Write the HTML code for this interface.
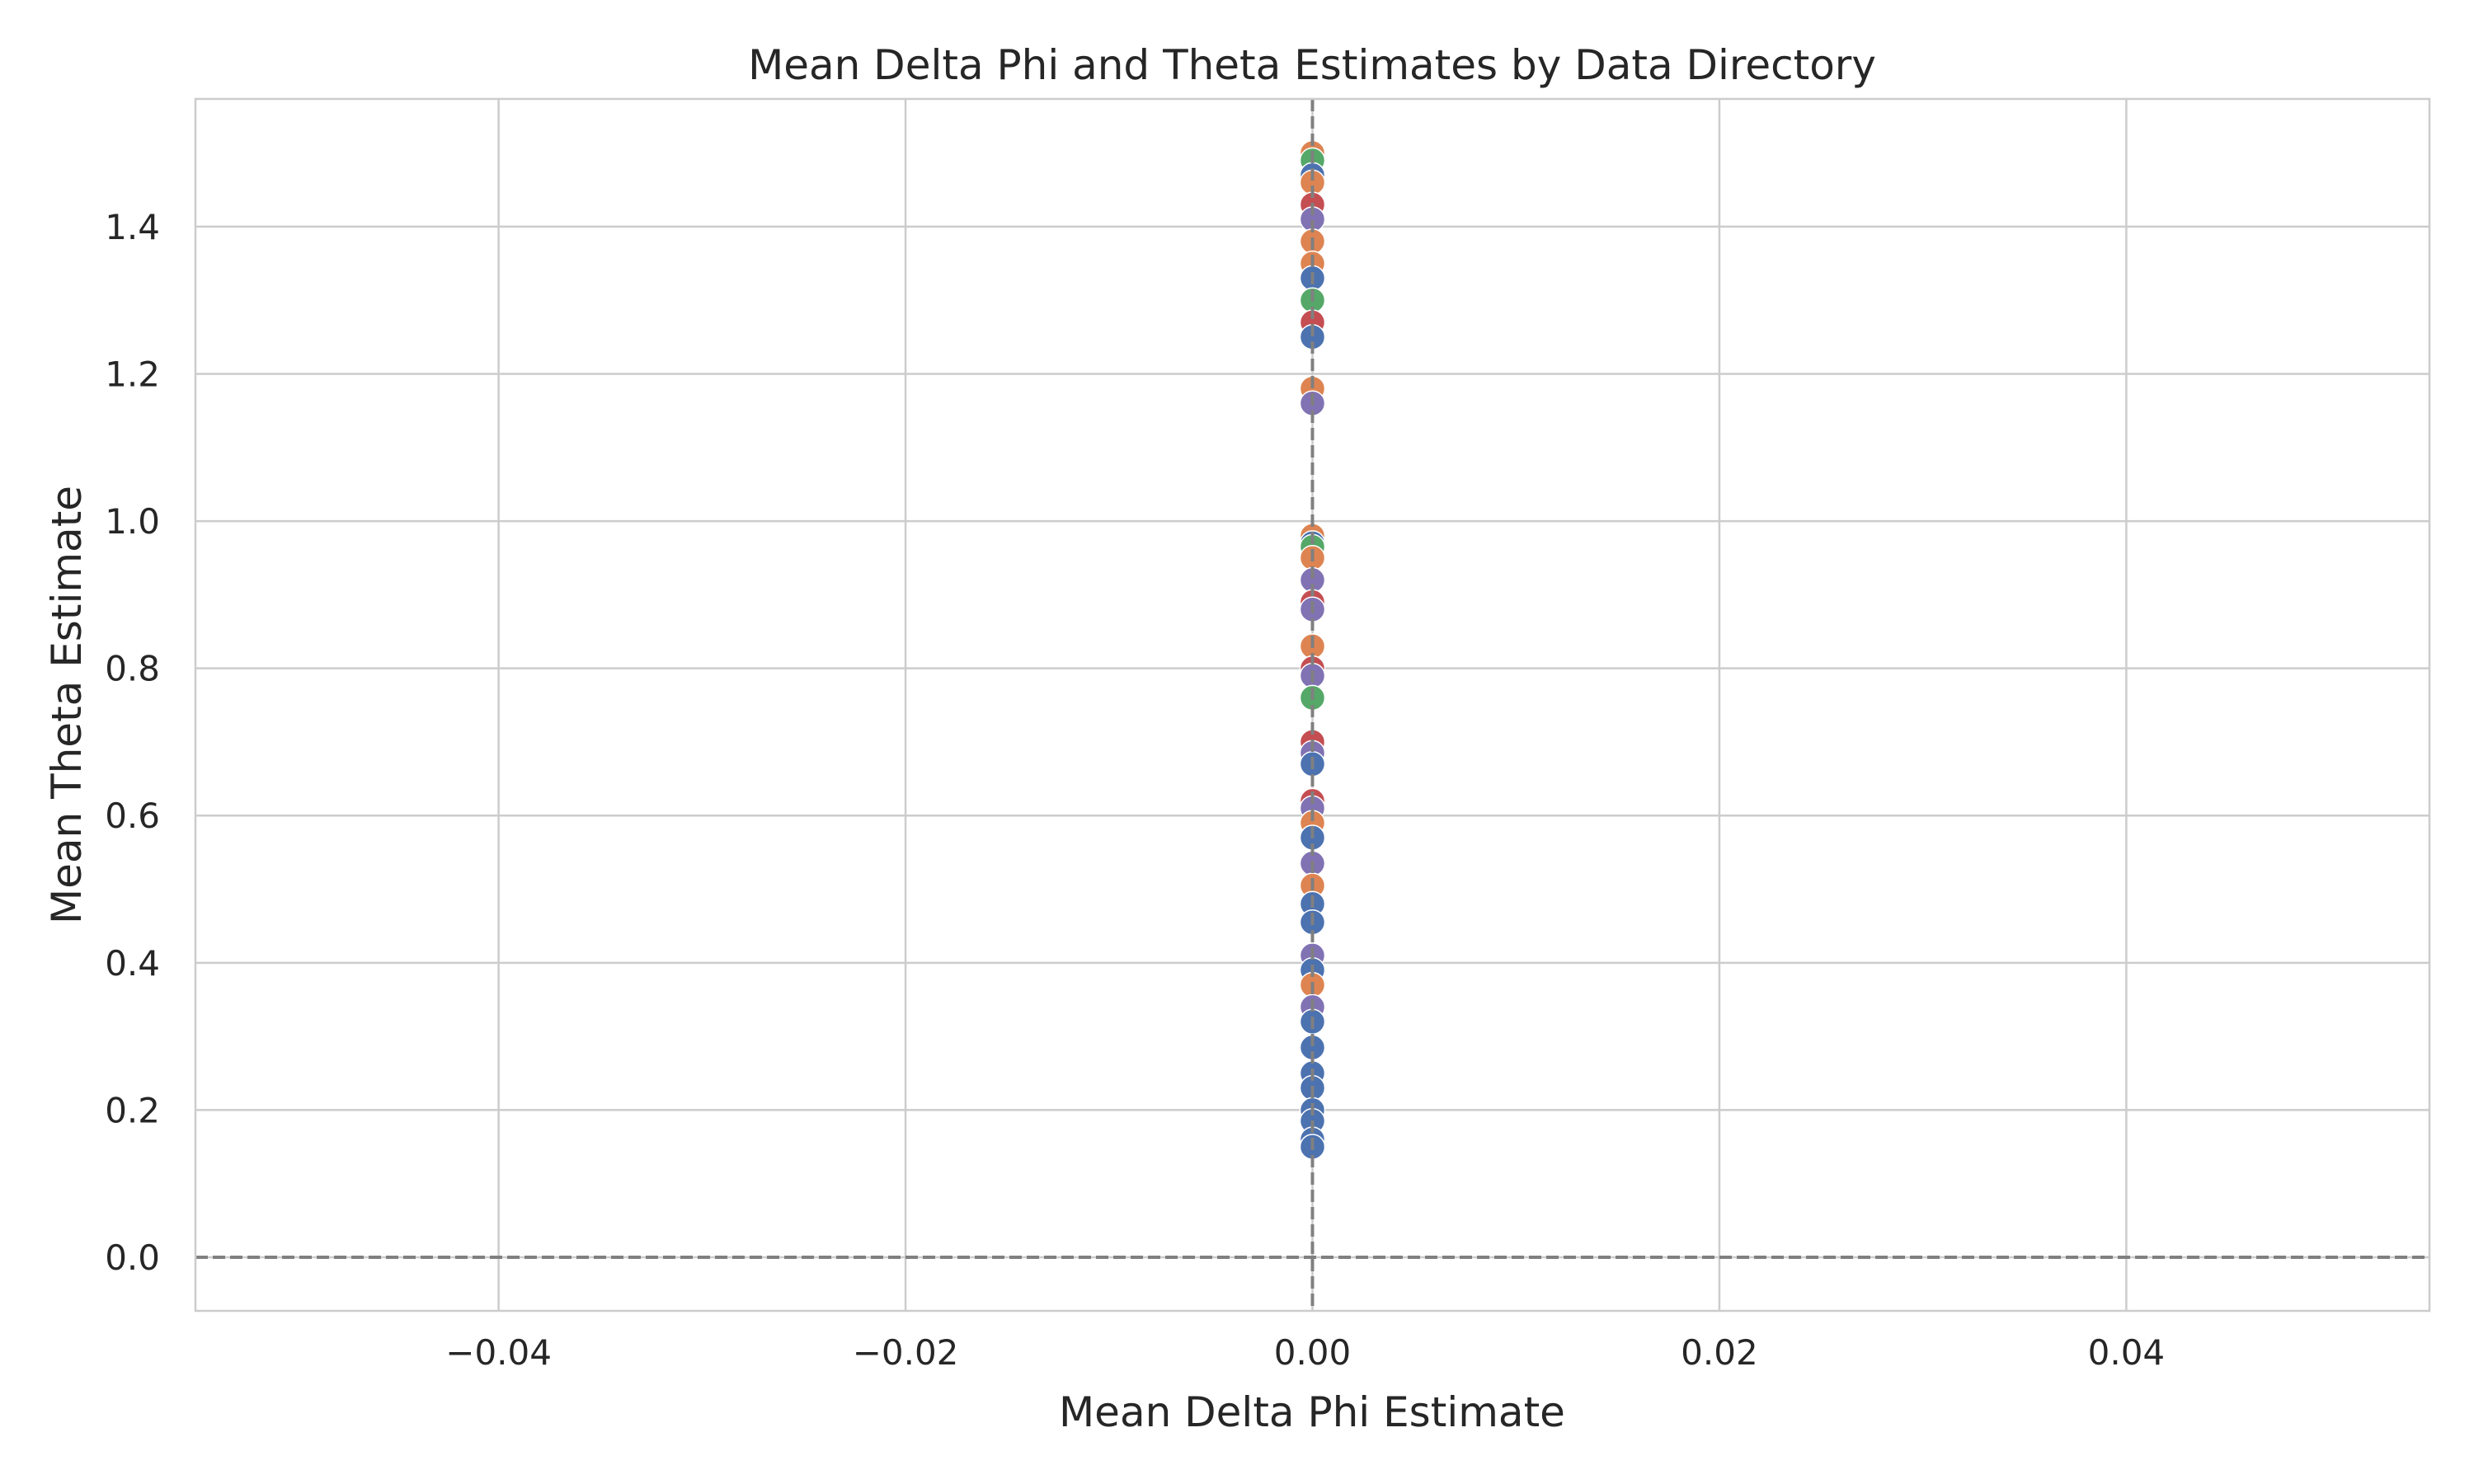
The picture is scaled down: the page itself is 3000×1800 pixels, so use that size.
<!DOCTYPE html>
<html><head><meta charset="utf-8"><style>
html,body{margin:0;padding:0;background:#fff;}
svg{display:block;font-family:"DejaVu Sans","Liberation Sans",sans-serif;}
</style></head><body>
<svg id="chart" width="3000" height="1800" viewBox="0 0 3000 1800" xmlns="http://www.w3.org/2000/svg">
<rect x="0" y="0" width="3000" height="1800" fill="#fff"/>
<g id="grid"></g>
<g id="refs"></g>
<g id="points"></g>
<rect x="237" y="120" width="2709" height="1470" fill="none" stroke="#cccccc" stroke-width="2.5"/>
<g id="ticks" font-size="42" fill="#262626"></g>
<text x="1591" y="96" font-size="50" text-anchor="middle" fill="#262626">Mean Delta Phi and Theta Estimates by Data Directory</text>
<text x="1591" y="1730" font-size="50" text-anchor="middle" fill="#262626">Mean Delta Phi Estimate</text>
<text transform="translate(98,855) rotate(-90)" font-size="50" text-anchor="middle" fill="#262626">Mean Theta Estimate</text>
</svg>
<script>
const xTicks = [-0.04, -0.02, 0.00, 0.02, 0.04];
const xTickLabels = ["\u22120.04", "\u22120.02", "0.00", "0.02", "0.04"];
const yTicks = [0.0, 0.2, 0.4, 0.6, 0.8, 1.0, 1.2, 1.4];
const yTickLabels = ["0.0", "0.2", "0.4", "0.6", "0.8", "1.0", "1.2", "1.4"];
const pointX = [0,0,0,0,0,0,0,0,0,0,0,0,0,0,0,0,0,0,0,0,0,0,0,0,0,0,0,0,0,0,0,0,0,0,0,0,0,0,0,0,0,0,0,0,0,0,0,0];
const pointY = [1.50,1.49,1.47,1.46,1.43,1.41,1.38,1.35,1.33,1.30,1.27,1.25,1.18,1.16,0.98,0.97,0.965,0.95,0.92,0.89,0.88,0.83,0.80,0.79,0.76,0.70,0.685,0.67,0.62,0.61,0.59,0.57,0.535,0.505,0.48,0.455,0.41,0.39,0.37,0.34,0.32,0.285,0.25,0.23,0.20,0.185,0.16,0.15];
const pointGroup = ["orange","green","blue","orange","red","purple","orange","orange","blue","green","red","blue","orange","purple","orange","blue","green","orange","purple","red","purple","orange","red","purple","green","red","purple","blue","red","purple","orange","blue","purple","orange","blue","blue","purple","blue","orange","purple","blue","blue","blue","blue","blue","blue","blue","blue"];
const palette = {blue:"#4c72b0",orange:"#dd8452",green:"#55a868",red:"#c44e52",purple:"#8172b3"};
const X0=237,X1=2946,Y0=120,Y1=1590;
const xMin=-0.0549,xMax=0.0549,yMin=-0.0728,yMax=1.5735;
const sx=v=>X0+(v-xMin)/(xMax-xMin)*(X1-X0);
const sy=v=>Y1-(v-yMin)/(yMax-yMin)*(Y1-Y0);
const NS="http://www.w3.org/2000/svg";
const mk=(t,a)=>{const e=document.createElementNS(NS,t);for(const k in a)e.setAttribute(k,a[k]);return e;};
const grid=document.getElementById('grid'),ticks=document.getElementById('ticks'),refs=document.getElementById('refs'),pts=document.getElementById('points');
xTicks.forEach((v,i)=>{
  const l=mk('line',{x1:sx(v),x2:sx(v),y1:Y0,y2:Y1,stroke:'#cccccc','stroke-width':2.5});
  
  
  grid.appendChild(l);
  const t=mk('text',{x:sx(v),y:1655,'text-anchor':'middle'});t.textContent=xTickLabels[i];
  
  
  ticks.appendChild(t);
});
yTicks.forEach((v,i)=>{
  const l=mk('line',{x1:X0,x2:X1,y1:sy(v),y2:sy(v),stroke:'#cccccc','stroke-width':2.5});
  
  
  grid.appendChild(l);
  const t=mk('text',{x:194,y:sy(v)+15,'text-anchor':'end'});t.textContent=yTickLabels[i];
  
  
  ticks.appendChild(t);
});
const h=mk('line',{x1:X0,x2:X1,y1:sy(0),y2:sy(0),stroke:'#808080','stroke-width':4,'stroke-dasharray':'15,6'});


refs.appendChild(h);
pointY.forEach((v,i)=>{
  const c=mk('circle',{cx:sx(pointX[i]),cy:sy(v),r:15,fill:palette[pointGroup[i]],stroke:'#fff','stroke-width':1.5});
  
  
  pts.appendChild(c);
});
const vl=mk('line',{x1:sx(0),x2:sx(0),y1:Y0,y2:Y1,stroke:'#808080','stroke-width':4,'stroke-dasharray':'15,6'});


pts.appendChild(vl);
</script>
</body></html>
